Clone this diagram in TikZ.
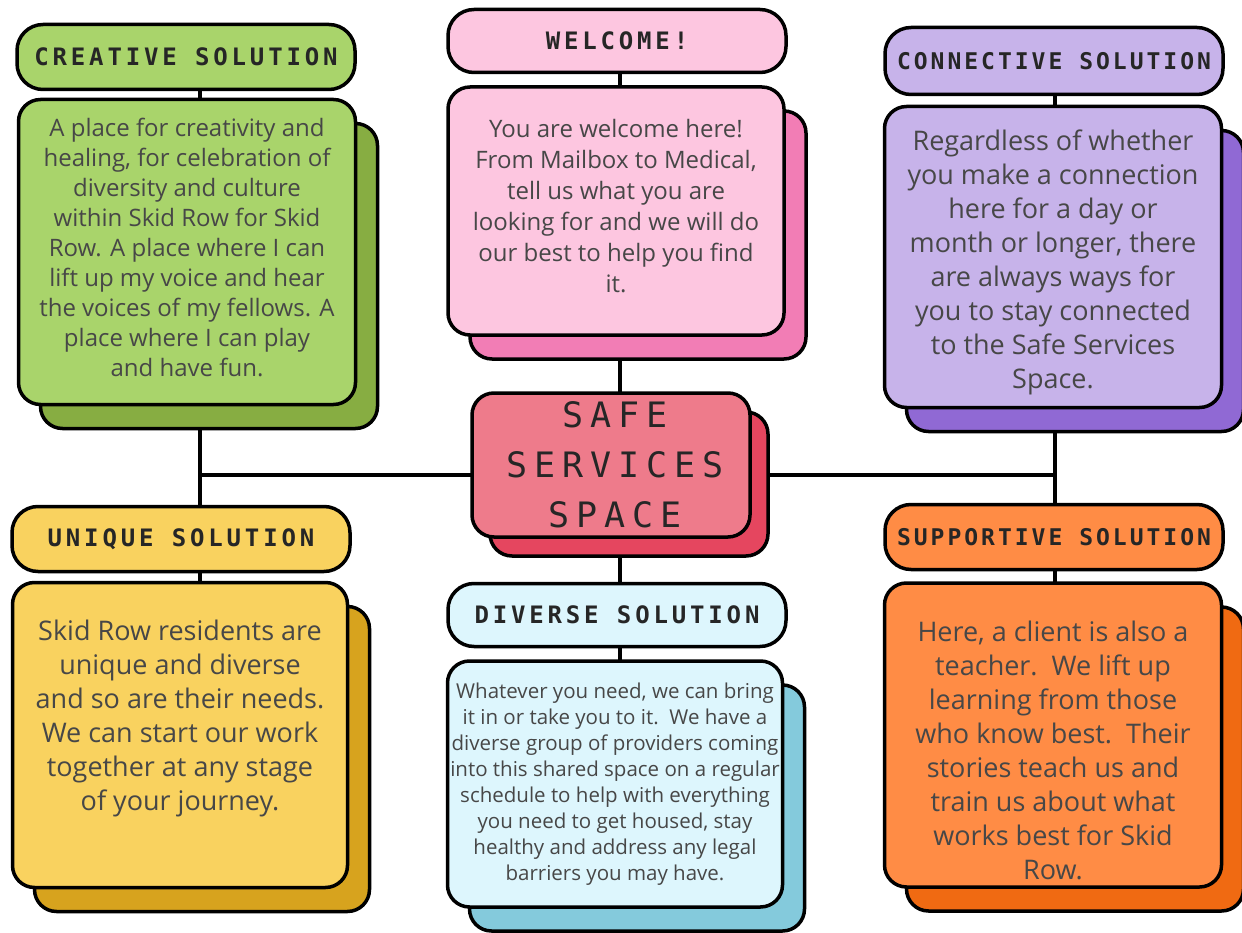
\documentclass[tikz,border=0pt]{standalone}
\usepackage{fontspec}
\setmainfont{Open Sans}
\newfontfamily\titlefont{DejaVu Sans Mono}[LetterSpace=16]
\newfontfamily\hubfont{DejaVu Sans Mono}[LetterSpace=20]
\usetikzlibrary{shadows,backgrounds}

\definecolor{creFill}{HTML}{A9D46B}
\definecolor{creDark}{HTML}{87AD42}
\definecolor{welFill}{HTML}{FDC6E0}
\definecolor{welDark}{HTML}{F27DB5}
\definecolor{conFill}{HTML}{C7B3EA}
\definecolor{conDark}{HTML}{9069D4}
\definecolor{hubFill}{HTML}{EE7B8B}
\definecolor{hubDark}{HTML}{E5465F}
\definecolor{uniFill}{HTML}{F9D25F}
\definecolor{uniDark}{HTML}{D7A31E}
\definecolor{divFill}{HTML}{DDF6FD}
\definecolor{divDark}{HTML}{84CADC}
\definecolor{supFill}{HTML}{FF8C45}
\definecolor{supDark}{HTML}{F06A12}

\tikzset{
  head/.style={draw=black, line width=3.5pt, rounded corners=26pt, inner sep=0pt,
    minimum width=338pt, minimum height=65pt, text=black!85,
    font=\titlefont\bfseries\fontsize{24}{28}\selectfont},
  card/.style={draw=black, line width=3.5pt, rounded corners=22pt, inner sep=0pt,
    minimum width=337pt, align=center, text=black!72},
  lift/.style={copy shadow={shadow xshift=22pt, shadow yshift=-24pt,
    fill=#1, draw=black, line width=3.5pt}},
  hublift/.style={copy shadow={shadow xshift=18pt, shadow yshift=-19pt,
    fill=#1, draw=black, line width=3.5pt}},
  link/.style={line width=4pt},
}

\begin{document}
\begin{tikzpicture}[x=1pt,y=-1pt]
\useasboundingbox (0,0) rectangle (1242,933);

% --- Centro ---
\node[card, hublift=hubDark, fill=hubFill, minimum width=278pt, minimum height=144pt,
  text=black!85, font=\hubfont\fontsize{35}{50}\selectfont] (hub) at (611,465)
  {\hspace{8pt}SAFE\\\hspace{8pt}SERVICES\\\hspace{8pt}SPACE};
\coordinate (hubL) at (200,475);
\coordinate (hubR) at (1055,475);
\coordinate (hubM) at (620,475);

% --- Colonna sinistra ---
\node[head, fill=creFill] (creT) at (186,57) {CREATIVE SOLUTION};
\node[card, lift=creDark, fill=creFill, minimum height=305pt,
  font=\fontsize{24}{30}\selectfont] (creB) at (187,252)
  {A place for creativity and\\healing, for celebration of\\diversity and culture\\
   within Skid Row for Skid\\Row. A place where I can\\lift up my voice and hear\\
   the voices of my fellows. A\\place where I can play\\and have fun.\\[-20pt]};

\node[head, fill=uniFill] (uniT) at (181,539) {UNIQUE SOLUTION};
\node[card, lift=uniDark, fill=uniFill, minimum width=335pt, minimum height=305pt,
  font=\fontsize{27}{34}\selectfont] (uniB) at (180,735)
  {Skid Row residents are\\unique and diverse\\and so are their needs.\\
   We can start our work\\together at any stage\\of your journey.\\[6pt]};

% --- Colonna centrale ---
\node[head, fill=welFill, minimum height=63pt] (welT) at (617,41) {WELCOME!};
\node[card, lift=welDark, fill=welFill, minimum width=336pt, minimum height=248pt,
  font=\fontsize{24}{31}\selectfont] (welB) at (616,211)
  {You are welcome here!\\From Mailbox to Medical,\\tell us what you are\\
   looking for and we will do\\our best to help you find\\it.\\[-21pt]};

\node[head, fill=divFill, minimum height=63pt] (divT) at (617,615) {DIVERSE SOLUTION};
\node[card, lift=divDark, fill=divFill, minimum width=335pt, minimum height=246pt,
  font=\fontsize{20.5}{26}\selectfont] (divB) at (615,784)
  {Whatever you need, we can bring\\it in or take you to it.\ \ We have a\\
   diverse group of providers coming\\into this shared space on a regular\\
   schedule to help with everything\\you need to get housed, stay\\
   healthy and address any legal\\barriers you may have.};

% --- Colonna destra ---
\node[head, fill=conFill, minimum height=67pt,
  font=\titlefont\bfseries\addfontfeature{LetterSpace=13}\fontsize{23}{28}\selectfont]
  (conT) at (1054,61) {CONNECTIVE SOLUTION};
\node[card, lift=conDark, fill=conFill, minimum height=301pt,
  font=\fontsize{27}{34}\selectfont] (conB) at (1053,257)
  {\\[-2pt]Regardless of whether\\you make a connection\\here for a day or\\
   month or longer, there\\are always ways for\\you to stay connected\\
   to the Safe Services\\Space.};

\node[head, fill=supFill,
  font=\titlefont\bfseries\addfontfeature{LetterSpace=13}\fontsize{23}{28}\selectfont]
  (supT) at (1054,537) {SUPPORTIVE SOLUTION};
\node[card, lift=supDark, fill=supFill, minimum height=304pt,
  font=\fontsize{27}{34}\selectfont] (supB) at (1053,735)
  {\\[18pt]Here, a client is also a\\teacher.\ \ We lift up\\learning from those\\
   who know best.\ \ Their\\stories teach us and\\train us about what\\
   works best for Skid\\Row.};

% --- Collegamenti ---
\begin{scope}[on background layer]
\draw[link] (hubL) -- (hubR);
\draw[link] (creT.center -| hubL) -- (uniB.center -| hubL);
\draw[link] (welT.center -| hubM) -- (divB.center -| hubM);
\draw[link] (conT.center -| hubR) -- (supB.center -| hubR);
\end{scope}

\end{tikzpicture}
\end{document}
